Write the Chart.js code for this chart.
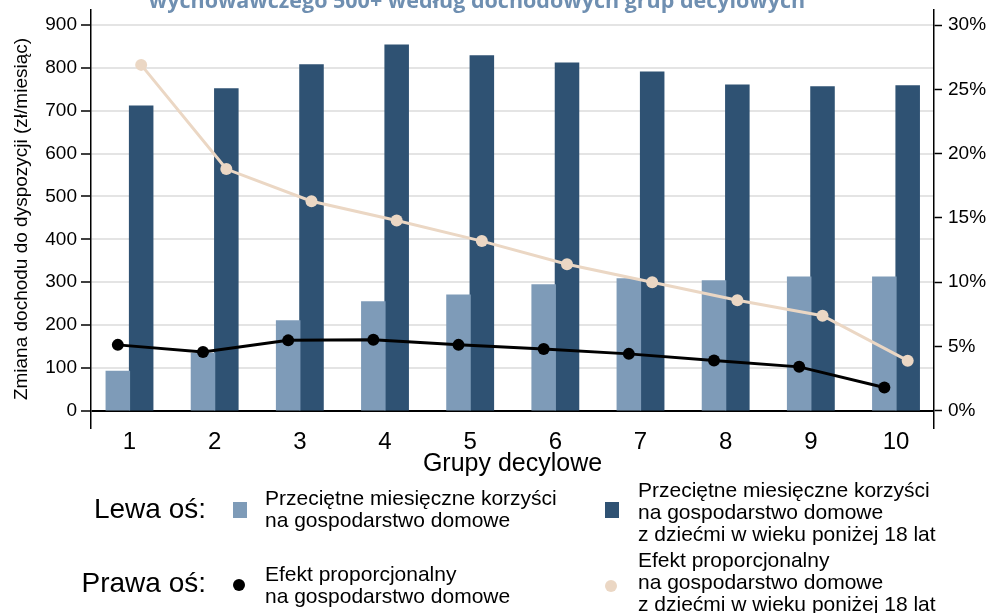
<!DOCTYPE html>
<html>
<head>
<meta charset="utf-8">
<script src="https://cdn.jsdelivr.net/npm/chart.js@4/dist/chart.umd.min.js"></script>
<style>
  html, body { margin: 0; padding: 0; background: #fff; }
  #wrap { width: 990px; height: 613px; }
</style>
</head>
<body>
<div id="wrap"><canvas id="chart"></canvas></div>
<script>
// decile groups and values
var groups = [1, 2, 3, 4, 5, 6, 7, 8, 9, 10];
var avgBenefit = [92, 134, 210, 254, 270, 294, 308, 303, 312, 312];
var avgBenefitKids = [711, 751, 807, 853, 828, 811, 790, 760, 756, 758];
var propEffect = [5.13, 4.57, 5.48, 5.52, 5.13, 4.80, 4.43, 3.92, 3.42, 1.82];
var propEffectKids = [26.9, 18.8, 16.3, 14.8, 13.2, 11.4, 10.0, 8.6, 7.4, 3.9];
var leftTicks = [0, 100, 200, 300, 400, 500, 600, 700, 800, 900];
var rightTicks = [0, 5, 10, 15, 20, 25, 30];

var lightBlue = '#7e9bb8';
var darkBlue = '#2f5273';
var beige = '#ebd7c4';
var font = '"Liberation Sans", Arial, sans-serif';
Chart.defaults.font.family = font;
Chart.defaults.color = '#000';

var groupPct = 0.548;
var shift = groupPct / 4; // half a bar, lines sit over the bar centres

function pts(vals, dx) {
    return vals.map(function (v, i) { return { x: groups[i] + dx, y: v }; });
}

var titlePlugin = {
    id: 'cutTitle',
    afterDraw: function (chart) {
        var ctx = chart.ctx;
        ctx.save();
        ctx.font = 'bold 21.5px "Open Sans", sans-serif';
        ctx.fillStyle = '#6f8fb1';
        ctx.textAlign = 'center';
        ctx.textBaseline = 'alphabetic';
        ctx.fillText('wychowawczego 500+ według dochodowych grup decylowych', 477, 8);
        ctx.restore();
    }
};

var legendItems = [
    { type: 'box', color: lightBlue, mx: 240, my: 510, tx: 265, ty: 499,
      lines: ['Przeciętne miesięczne korzyści', 'na gospodarstwo domowe'] },
    { type: 'box', color: darkBlue, mx: 612, my: 510, tx: 638, ty: 491,
      lines: ['Przeciętne miesięczne korzyści', 'na gospodarstwo domowe', 'z dziećmi w wieku poniżej 18 lat'] },
    { type: 'dot', color: '#000', mx: 239, my: 585, tx: 265, ty: 575,
      lines: ['Efekt proporcjonalny', 'na gospodarstwo domowe'] },
    { type: 'dot', color: beige, mx: 611, my: 586, tx: 638, ty: 561,
      lines: ['Efekt proporcjonalny', 'na gospodarstwo domowe', 'z dziećmi w wieku poniżej 18 lat'] }
];

var legendPlugin = {
    id: 'axisLegend',
    afterDraw: function (chart) {
        var ctx = chart.ctx;
        ctx.save();
        ctx.fillStyle = '#000';
        ctx.textBaseline = 'middle';
        ctx.textAlign = 'right';
        ctx.font = '28px ' + font;
        ctx.fillText('Lewa oś:', 206, 510);
        ctx.fillText('Prawa oś:', 206, 584);
        ctx.textAlign = 'left';
        ctx.font = '21px ' + font;
        legendItems.forEach(function (it) {
            ctx.fillStyle = it.color;
            if (it.type === 'box') {
                ctx.fillRect(it.mx - 7, it.my - 8, 14, 16);
            } else {
                ctx.beginPath();
                ctx.arc(it.mx, it.my, 6, 0, Math.PI * 2);
                ctx.fill();
            }
            ctx.fillStyle = '#000';
            it.lines.forEach(function (l, k) {
                ctx.fillText(l, it.tx, it.ty + k * 22);
            });
        });
        ctx.restore();
    }
};

function noPad(s) {
    s.paddingTop = 0;
    s.paddingBottom = 0;
}

var ctx = document.getElementById('chart').getContext('2d');
var myChart = new Chart(ctx, {
    type: 'bar',
    data: {
        datasets: [{
            type: 'line',
            label: 'Efekt proporcjonalny na gospodarstwo domowe z dziećmi',
            data: pts(propEffectKids, shift),
            yAxisID: 'y2',
            borderColor: beige,
            backgroundColor: beige,
            borderWidth: 3,
            pointRadius: 6,
            pointBorderWidth: 0,
            order: 1
        }, {
            type: 'line',
            label: 'Efekt proporcjonalny na gospodarstwo domowe',
            data: pts(propEffect, -shift),
            yAxisID: 'y2',
            borderColor: '#000',
            backgroundColor: '#000',
            borderWidth: 3,
            pointRadius: 6,
            pointBorderWidth: 0,
            order: 1
        }, {
            label: 'Przeciętne miesięczne korzyści na gospodarstwo domowe',
            data: pts(avgBenefit, 0),
            yAxisID: 'y',
            backgroundColor: lightBlue,
            borderWidth: 0,
            inflateAmount: 0.6,
            categoryPercentage: groupPct,
            barPercentage: 1,
            order: 2
        }, {
            label: 'Przeciętne miesięczne korzyści na gospodarstwo domowe z dziećmi',
            data: pts(avgBenefitKids, 0),
            yAxisID: 'y',
            backgroundColor: darkBlue,
            borderWidth: 0,
            inflateAmount: 0.6,
            categoryPercentage: groupPct,
            barPercentage: 1,
            order: 2
        }]
    },
    options: {
        responsive: true,
        maintainAspectRatio: false,
        animation: false,
        layout: { padding: { top: 10, bottom: 131, left: 0, right: 0 } },
        plugins: {
            legend: { display: false },
            tooltip: { enabled: false }
        },
        scales: {
            x: {
                type: 'linear',
                offset: false,
                min: 0.548,
                max: 10.446,
                afterBuildTicks: function (s) {
                    s.ticks = groups.map(function (g) { return { value: g }; });
                },
                afterFit: function (s) { s.height = 54; s.paddingLeft = 0; s.paddingRight = 0; },
                grid: { display: false, drawTicks: false },
                border: { display: false },
                ticks: {
                    autoSkip: false, maxRotation: 0, padding: 0,
                    font: { size: 24 }, color: '#000',
                    callback: function (v) { return String(v); }
                },
                title: {
                    display: true, text: 'Grupy decylowe', color: '#000',
                    font: { size: 25 }, padding: { top: 0, bottom: 3 }
                }
            },
            y: {
                position: 'left',
                min: -40,
                max: 935,
                afterBuildTicks: function (s) {
                    s.ticks = leftTicks.map(function (v) { return { value: v }; });
                },
                afterFit: function (s) { s.width = 91; noPad(s); },
                grid: {
                    color: function (c) { return c.tick && c.tick.value === 0 ? '#000' : '#e4e4e4'; },
                    lineWidth: 2,
                    tickColor: '#000',
                    tickLength: 10,
                    tickWidth: 1.5
                },
                border: { color: '#000', width: 1.5 },
                ticks: { font: { size: 19 }, color: '#000', padding: 4 },
                title: {
                    display: true, text: 'Zmiana dochodu do dyspozycji (zł/miesiąc)',
                    color: '#000', font: { size: 19 }, padding: { top: 10 }
                }
            },
            y2: {
                position: 'right',
                min: -40 / 30,
                max: 935 / 30,
                afterBuildTicks: function (s) {
                    s.ticks = rightTicks.map(function (v) { return { value: v }; });
                },
                afterFit: function (s) { s.width = 56; noPad(s); },
                grid: { drawOnChartArea: false, tickColor: '#000', tickLength: 8, tickWidth: 1.5 },
                border: { color: '#000', width: 1.5 },
                ticks: {
                    font: { size: 19 }, color: '#000', padding: 6,
                    callback: function (v) { return v + '%'; }
                }
            }
        }
    },
    plugins: [titlePlugin, legendPlugin]
});
</script>
</body>
</html>
